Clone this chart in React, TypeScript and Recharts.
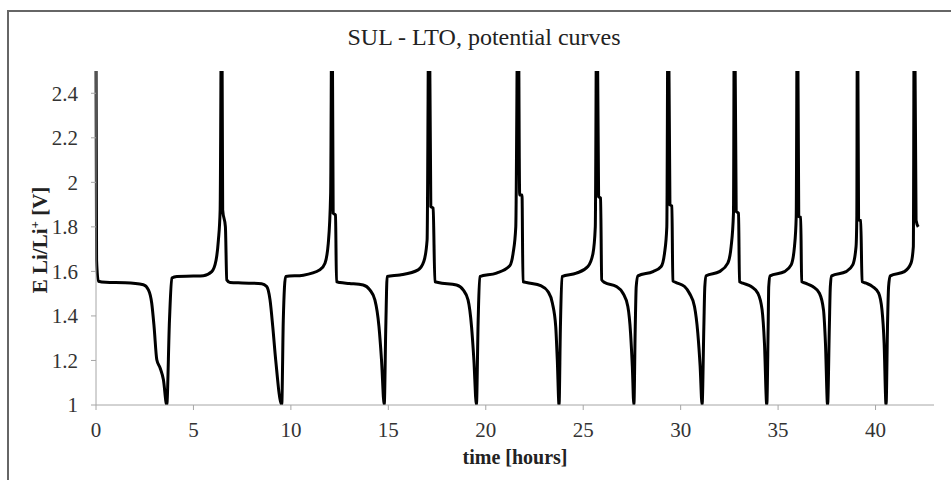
import React from 'react';
import { LineChart, Line, XAxis, YAxis } from 'recharts';

// time [hours] and E Li/Li+ [V], cycle by cycle.
// Spike tops go past 2.5 V and are clipped by the axis domain.
const timeHours = [
  0, 0.03, 0.12, 0.5, 1.5, 2.43, 2.69, 2.86, 2.98, 3.12, 3.29, 3.46, 3.63, 3.77, 3.89, 4.15, 5.0, 5.51, 5.94, 6.16, 6.28, 6.37, 6.45, 6.5, 6.64, 6.71, 6.88,
  7.5, 8.5, 8.76, 8.93, 9.07, 9.22, 9.53, 9.61, 9.73, 10.64, 11.49, 11.75, 11.92, 12.04, 12.11, 12.17, 12.29, 12.34, 12.52,
  13.0, 13.71, 14.05, 14.31, 14.52, 14.65, 14.79, 14.87, 14.94, 15.59, 16.53, 16.82, 16.99, 17.09, 17.18, 17.3, 17.39, 17.56,
  18.5, 18.84, 19.09, 19.27, 19.39, 19.52, 19.61, 19.69, 20.55, 21.23, 21.4, 21.54, 21.66, 21.74, 21.86, 21.91, 22.09,
  22.85, 23.19, 23.42, 23.59, 23.67, 23.76, 23.83, 23.91, 24.65, 25.24, 25.5, 25.62, 25.7, 25.79, 25.89, 25.95, 26.1,
  26.7, 27.04, 27.29, 27.43, 27.52, 27.6, 27.67, 27.72, 27.81, 28.58, 29.0, 29.17, 29.29, 29.36, 29.45, 29.55, 29.6, 29.77,
  30.2, 30.45, 30.71, 30.88, 31.0, 31.1, 31.19, 31.24, 31.31, 31.99, 32.42, 32.59, 32.71, 32.76, 32.85, 32.97, 33.02, 33.19,
  33.62, 33.96, 34.18, 34.3, 34.42, 34.49, 34.52, 34.59, 35.33, 35.67, 35.84, 35.93, 35.99, 36.06, 36.16, 36.21, 36.4,
  36.78, 37.12, 37.33, 37.43, 37.54, 37.63, 37.68, 37.75, 38.49, 38.83, 39.0, 39.04, 39.07, 39.13, 39.24, 39.31, 39.52,
  39.85, 40.16, 40.33, 40.44, 40.54, 40.62, 40.67, 40.76, 41.48, 41.82, 41.94, 41.99, 42.08, 42.19,
];
const potentialV = [
  2.6, 1.65, 1.556, 1.551, 1.549, 1.54, 1.517, 1.457, 1.352, 1.203, 1.166, 1.113, 1.0, 1.38, 1.57, 1.577, 1.579, 1.581, 1.599, 1.65, 1.74, 1.876, 3.0, 1.876, 1.8, 1.562, 1.55,
  1.548, 1.545, 1.532, 1.472, 1.352, 1.203, 1.0, 1.38, 1.577, 1.583, 1.607, 1.637, 1.727, 1.95, 3.0, 1.861, 1.853, 1.554, 1.55,
  1.546, 1.539, 1.517, 1.472, 1.352, 1.203, 1.0, 1.35, 1.577, 1.584, 1.607, 1.644, 1.741, 3.0, 1.891, 1.884, 1.554, 1.55,
  1.539, 1.517, 1.472, 1.352, 1.203, 1.0, 1.38, 1.577, 1.592, 1.625, 1.68, 1.8, 3.0, 1.943, 1.943, 1.554, 1.55,
  1.535, 1.51, 1.457, 1.352, 1.203, 1.0, 1.35, 1.577, 1.592, 1.622, 1.68, 1.8, 3.0, 1.936, 1.929, 1.562, 1.55,
  1.532, 1.502, 1.442, 1.323, 1.173, 1.0, 1.35, 1.532, 1.58, 1.599, 1.622, 1.68, 1.8, 3.0, 1.899, 1.894, 1.557, 1.55,
  1.532, 1.502, 1.442, 1.323, 1.173, 1.0, 1.35, 1.532, 1.58, 1.599, 1.637, 1.711, 1.861, 3.0, 1.869, 1.861, 1.554, 1.547,
  1.532, 1.502, 1.427, 1.278, 1.0, 1.35, 1.532, 1.58, 1.599, 1.629, 1.711, 1.846, 3.0, 1.846, 1.843, 1.554, 1.547,
  1.532, 1.502, 1.427, 1.278, 1.0, 1.35, 1.532, 1.58, 1.599, 1.629, 1.711, 1.85, 3.0, 1.831, 1.828, 1.554, 1.547,
  1.532, 1.502, 1.427, 1.278, 1.0, 1.38, 1.532, 1.58, 1.599, 1.637, 1.711, 3.0, 1.83, 1.8,
];

const xTicks = [0, 5, 10, 15, 20, 25, 30, 35, 40];
const yTicks = [1, 1.2, 1.4, 1.6, 1.8, 2, 2.2, 2.4];

const rows = timeHours.map((t, i) => ({ t, e: potentialV[i] }));

const FONT = "Liberation Serif, Tinos, DejaVu Serif, serif";
const AXIS = '#a6a6a6';
const tick = { fontSize: 21, fill: '#333', fontFamily: FONT };

export default function App() {
  return (
    <div style={{ position: 'absolute', left: 0, top: 0, width: 951, height: 480, background: '#fff', overflow: 'hidden' }}>
      {/* frame: only top and left edges are inside the picture */}
      <div style={{ position: 'absolute', left: 7, top: 10, width: 960, height: 490, borderTop: '2px solid #666', borderLeft: '2px solid #666' }} />
      <LineChart width={951} height={480} data={rows} margin={{ top: 71, right: 17, bottom: 45, left: 0 }}>
        <XAxis
          type="number"
          dataKey="t"
          domain={[0, 43]}
          ticks={xTicks}
          tick={tick}
          tickSize={5}
          tickMargin={12}
          height={30}
          stroke={AXIS}
          tickLine={{ stroke: AXIS }}
          axisLine={{ stroke: AXIS }}
        />
        <YAxis
          type="number"
          domain={[1, 2.5]}
          allowDataOverflow
          ticks={yTicks}
          tick={tick}
          tickSize={5}
          tickMargin={13}
          width={96}
          stroke={AXIS}
          tickLine={{ stroke: AXIS }}
          axisLine={{ stroke: AXIS }}
        />
        <Line type="monotone" dataKey="e" stroke="#000" strokeWidth={3} dot={false} activeDot={false} isAnimationActive={false} />
      </LineChart>
      <svg width={951} height={480} style={{ position: 'absolute', left: 0, top: 0, pointerEvents: 'none' }}>
        <text x={484} y={45} textAnchor="middle" fontSize={24} fontFamily={FONT} fill="#222">SUL - LTO, potential curves</text>
        <text x={515} y={464} textAnchor="middle" fontSize={20} fontWeight="bold" fontFamily={FONT} fill="#222">time [hours]</text>
        <text x={47} y={240} transform="rotate(-90 47 240)" textAnchor="middle" fontSize={21} fontWeight="bold" fontFamily={FONT} fill="#222">
          E Li/Li<tspan dy={-8} fontSize={13}>+</tspan><tspan dy={8}> [V]</tspan>
        </text>
      </svg>
    </div>
  );
}
